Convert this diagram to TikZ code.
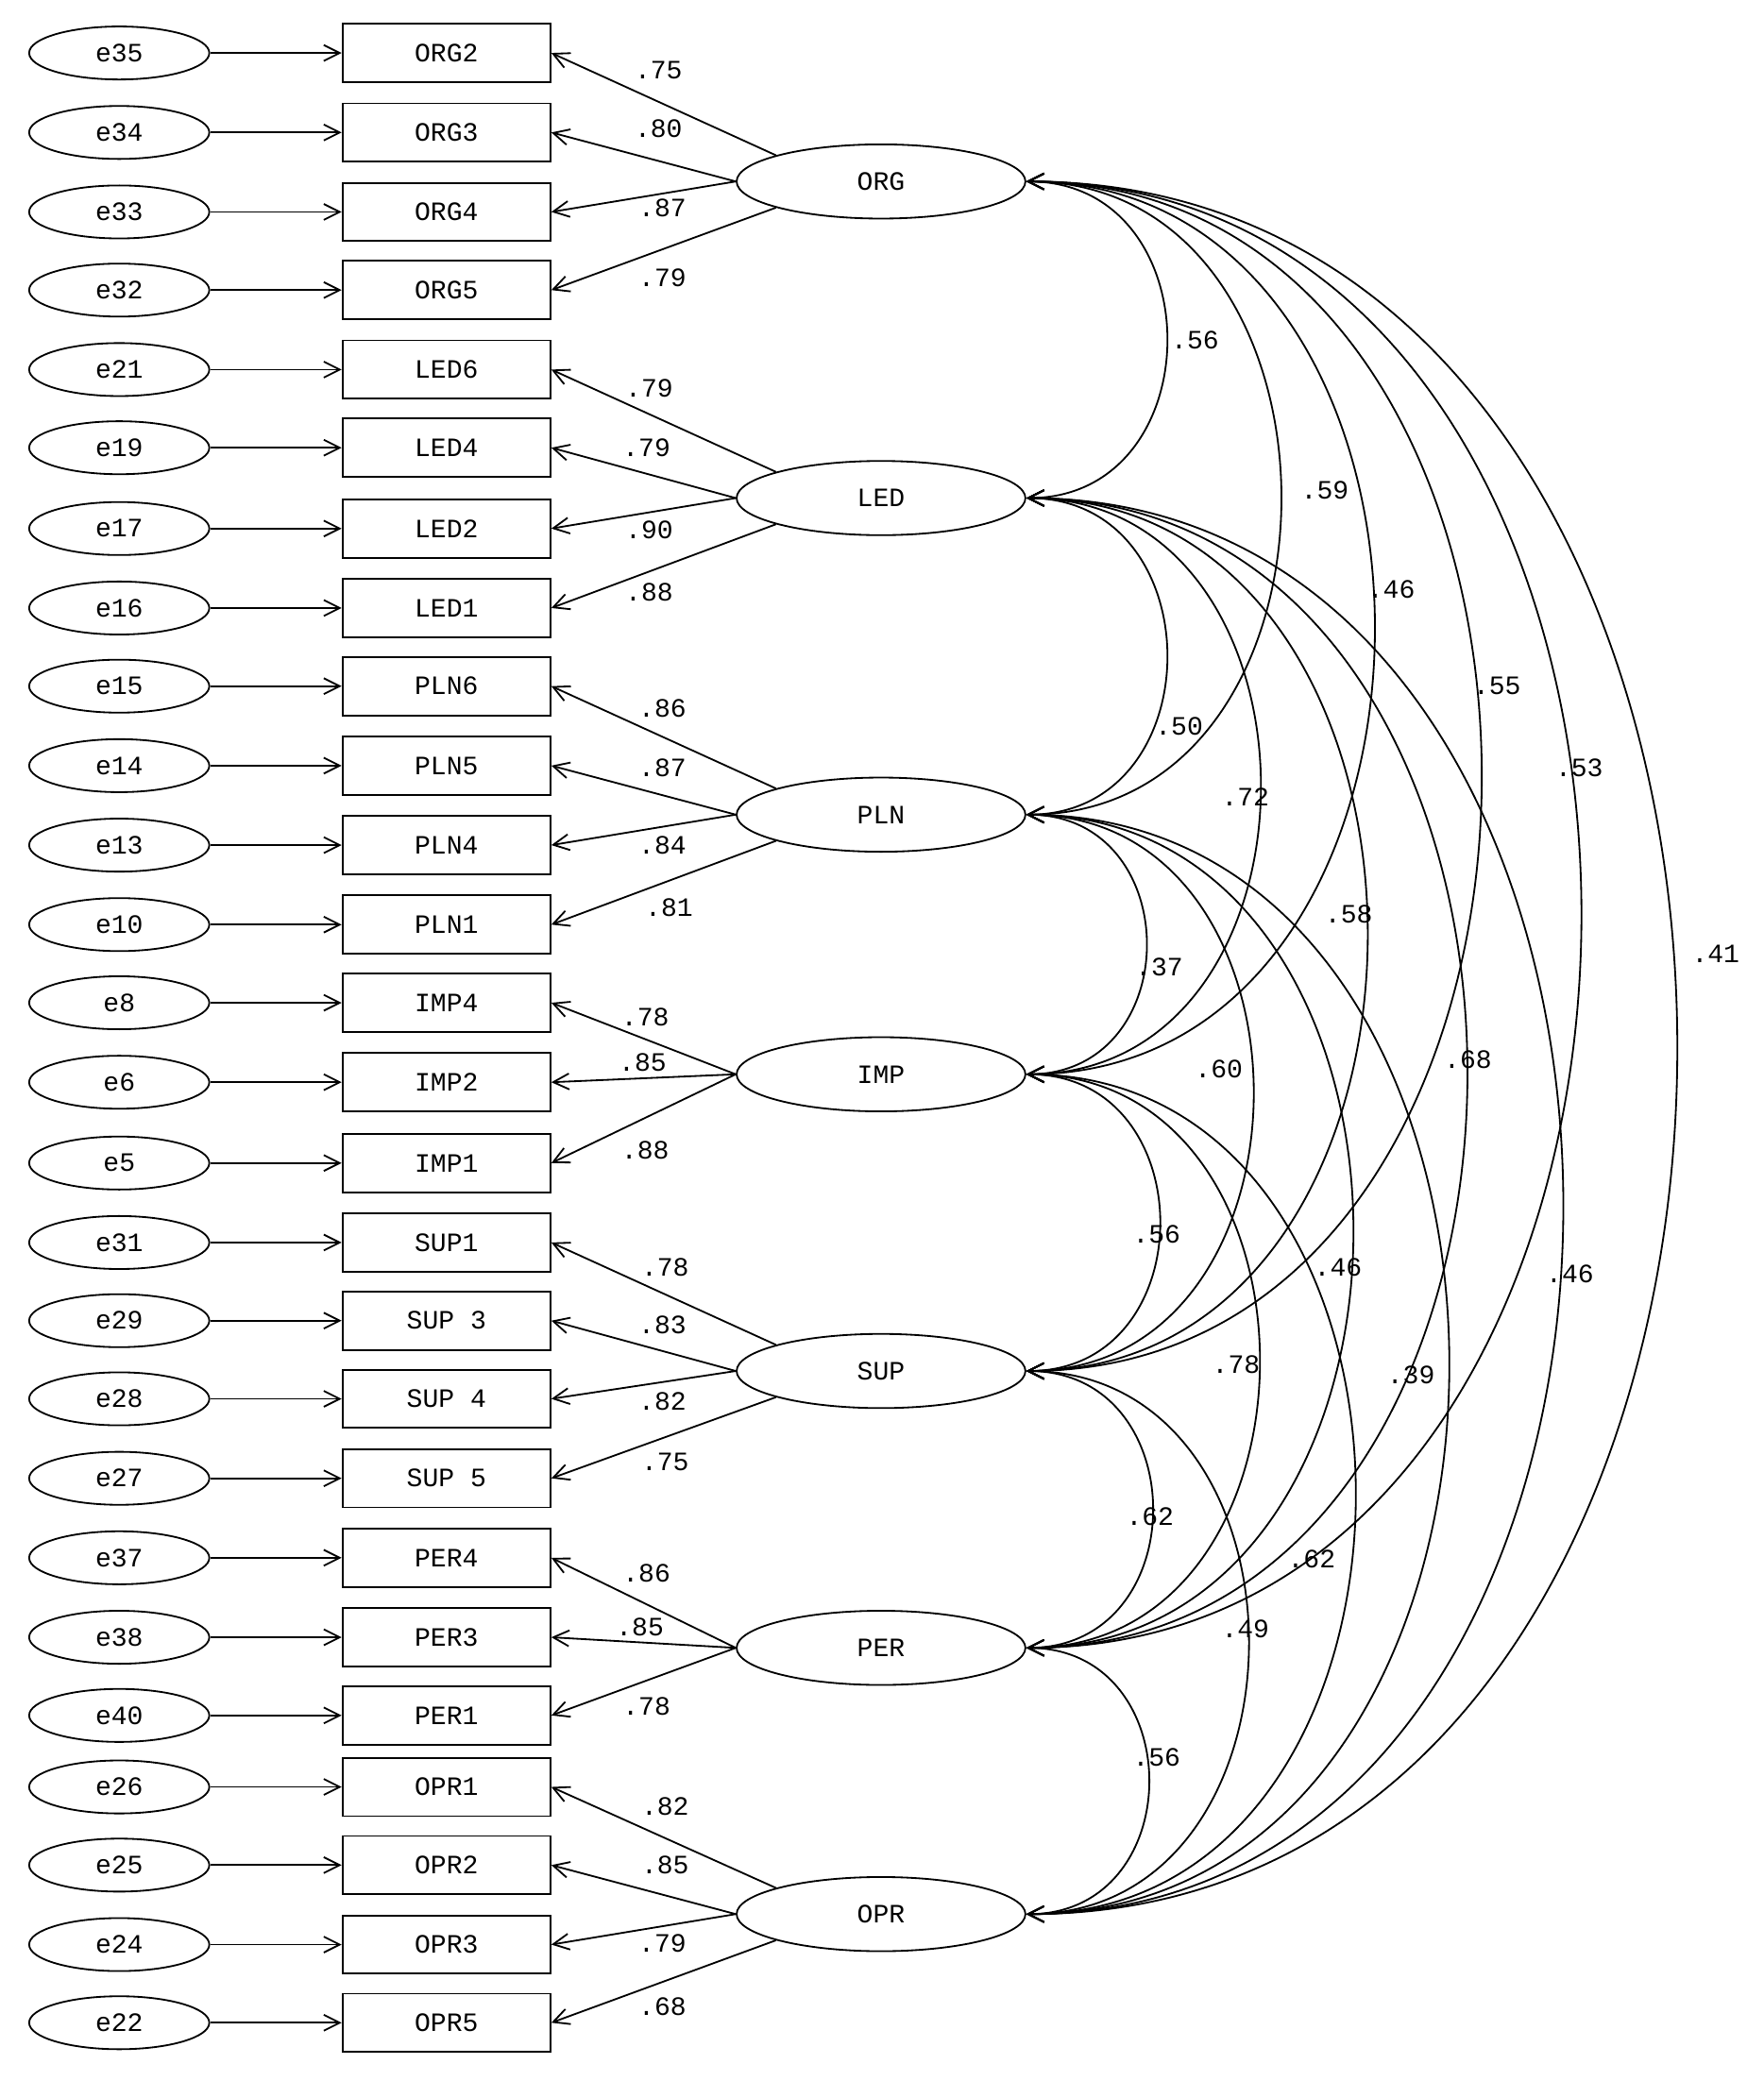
\documentclass[tikz,border=0pt]{standalone}
\usepackage{fontspec}
\setmainfont{Liberation Mono}
\usetikzlibrary{arrows.meta,shapes.geometric,calc}
\begin{document}
\begin{tikzpicture}[x=1pt,y=-1pt,
  every node/.style={font=\fontsize{20}{24}\selectfont},
  err/.style={draw,ellipse,minimum width=136pt,minimum height=40pt,inner sep=0pt,line width=1.3pt},
  obs/.style={draw,rectangle,minimum width=157pt,minimum height=44pt,inner sep=0pt,line width=1.3pt},
  lat/.style={draw,ellipse,minimum width=218pt,minimum height=56pt,inner sep=0pt,line width=1.3pt},
  arr/.style={-{Straight Barb[length=12pt,width=12pt]},line width=1.3pt},
  cov/.style={{Straight Barb[length=12pt,width=12pt]}-{Straight Barb[length=12pt,width=12pt]},line width=1.3pt},
  lab/.style={inner sep=1pt}]
\useasboundingbox (0,0) rectangle (1331,1571);
% observed rows
\foreach \e/\o/\y/\n in {e35/ORG2/40/o1,e34/ORG3/100/o2,e33/ORG4/160/o3,e32/ORG5/219/o4,
 e21/LED6/279/o5,e19/LED4/338/o6,e17/LED2/399/o7,e16/LED1/459/o8,
 e15/PLN6/518/o9,e14/PLN5/578/o10,e13/PLN4/638/o11,e10/PLN1/698/o12,
 e8/IMP4/757/o13,e6/IMP2/817/o14,e5/IMP1/878/o15,
 e31/SUP1/938/o16,e29/SUP 3/997/o17,e28/SUP 4/1056/o18,e27/SUP 5/1116/o19,
 e37/PER4/1176/o20,e38/PER3/1236/o21,e40/PER1/1295/o22,
 e26/OPR1/1349/o23,e25/OPR2/1408/o24,e24/OPR3/1468/o25,e22/OPR5/1527/o26}{
 \node[err] (e\n) at (90,\y) {\e};
 \node[obs] (\n) at (337,\y) {\o};
 \draw[arr] (e\n) -- (\n);
}
% latent
\node[lat] (ORG) at (665,137) {ORG};
\node[lat] (LED) at (665,376) {LED};
\node[lat] (PLN) at (665,615) {PLN};
\node[lat] (IMP) at (665,811) {IMP};
\node[lat] (SUP) at (665,1035) {SUP};
\node[lat] (PER) at (665,1244) {PER};
\node[lat] (OPR) at (665,1445) {OPR};
% loadings
\foreach \L/\a/\o/\lx/\ly/\v in {
 ORG/166/o1/497/53/.75, ORG/180/o2/497/97/.80, ORG/180/o3/500/157/.87, ORG/194/o4/500/210/.79,
 LED/166/o5/490/293/.79, LED/180/o6/488/338/.79, LED/180/o7/490/400/.90, LED/194/o8/490/447/.88,
 PLN/166/o9/500/535/.86, PLN/180/o10/500/580/.87, PLN/180/o11/500/638/.84, PLN/194/o12/505/685/.81,
 IMP/180/o13/487/768/.78, IMP/180/o14/485/802/.85, IMP/180/o15/487/868/.88,
 SUP/166/o16/502/957/.78, SUP/180/o17/500/1000/.83, SUP/180/o18/500/1058/.82, SUP/194/o19/502/1104/.75,
 PER/180/o20/488/1188/.86, PER/180/o21/483/1228/.85, PER/180/o22/488/1288/.78,
 OPR/166/o23/502/1364/.82, OPR/180/o24/502/1408/.85, OPR/180/o25/500/1467/.79, OPR/194/o26/500/1515/.68}{
 \draw[arr] (\L.\a) -- (\o.east);
 \node[lab] at (\lx,\ly) {\v};
}
% covariances
\foreach \A/\ya/\B/\yb/\lx/\ly/\v in {
 ORG/137/LED/376/902/257/.56, ORG/137/PLN/615/1000/370/.59, ORG/137/IMP/811/1050/445/.46,
 ORG/137/SUP/1035/1130/518/.55, ORG/137/PER/1244/1192/580/.53, ORG/137/OPR/1445/1295/720/.41,
 LED/376/PLN/615/890/548/.50, LED/376/IMP/811/940/602/.72, LED/376/SUP/1035/1018/690/.58,
 LED/376/PER/1244/1108/800/.68, LED/376/OPR/1445/1185/962/.46,
 PLN/615/IMP/811/875/730/.37, PLN/615/SUP/1035/920/807/.60, PLN/615/PER/1244/1010/957/.46,
 PLN/615/OPR/1445/1065/1038/.39,
 IMP/811/SUP/1035/873/932/.56, IMP/811/PER/1244/933/1030/.78, IMP/811/OPR/1445/990/1177/.62,
 SUP/1035/PER/1244/868/1145/.62, SUP/1035/OPR/1445/940/1230/.49,
 PER/1244/OPR/1445/873/1327/.56}{
 \pgfmathsetmacro\k{(0.36*(\yb-\ya)+20)/0.75}
 \draw[cov] (\A.east) .. controls ($(\A.east)+(\k,0)$) and ($(\B.east)+(\k,0)$) .. (\B.east);
 \node[lab] at (\lx,\ly) {\v};
}
\end{tikzpicture}
\end{document}
